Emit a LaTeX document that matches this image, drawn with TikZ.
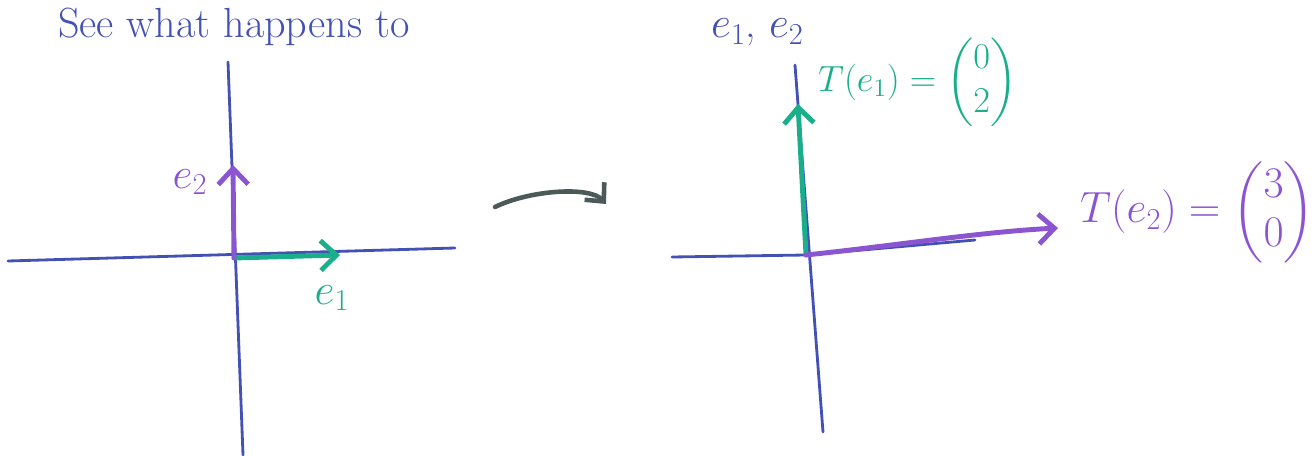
\documentclass[tikz,border=0pt]{standalone}
\usepackage{amsmath,amssymb}
\usepackage{tikz}
\usetikzlibrary{arrows.meta}
\definecolor{axisblue}{HTML}{4350B4}
\definecolor{vecgreen}{HTML}{1BAE8A}
\definecolor{vecpurple}{HTML}{8B55D2}
\definecolor{mapgray}{HTML}{4B5959}
\tikzset{
  axis/.style={axisblue,line width=1.6pt,line cap=round},
  vec/.style={line width=2.8pt,line cap=round,-{Straight Barb[length=9pt,width=17pt,line width=2.8pt]}},
}
\newcommand{\TitleFont}{\fontsize{24}{28}\selectfont}

\begin{document}
\begin{tikzpicture}[x=0.02cm,y=-0.02cm,font=\fontsize{23}{27}\selectfont]
  \useasboundingbox (0,0) rectangle (1316,456);
  \node[axisblue,anchor=base west,font=\TitleFont] (ttl) at (52,38) {See what happens to};
  \node[axisblue,anchor=base west,font=\TitleFont] (ttlv) at (705,38) {$e_1$, $e_2$};

  \coordinate (oa) at (234,258);
  \coordinate (xa1) at (8,261);
  \coordinate (xa2) at (455,248);
  \coordinate (ya1) at (228,62);
  \coordinate (ya2) at (243,455);
  \draw[axis] (xa1) -- (xa2);
  \draw[axis] (ya1) -- (ya2);
  \coordinate (e1tip) at (340,255);
  \coordinate (e2tip) at (233,165);
  \draw[vec,vecgreen] (oa) -- (e1tip);
  \draw[vec,vecpurple] (oa) -- (e2tip);
  \node[vecpurple] (e2lbl) at (190,182) {$e_2$};
  \node[vecgreen] (e1lbl) at (332,298) {$e_1$};

  \coordinate (ma) at (495,207);
  \coordinate (mb) at (606,204);
  \draw[mapgray,line width=2.6pt,line cap=round,-{Straight Barb[length=8pt,width=15pt,line width=2.6pt]}]
    (ma) .. controls (530,190) and (590,186) .. (mb);

  \coordinate (ob) at (806,255);
  \coordinate (xb1) at (672,257);
  \coordinate (xb2) at (975,240);
  \coordinate (yb1) at (795,65);
  \coordinate (yb2) at (823,432);
  \draw[axis] (xb1) -- (ob) -- (xb2);
  \draw[axis] (yb1) -- (yb2);
  \coordinate (t1tip) at (798,104);
  \coordinate (t2tip) at (1058,228);
  \draw[vec,vecgreen] (ob) -- (t1tip);
  \draw[vec,vecpurple] (ob) .. controls (900,245) and (980,232) .. (t2tip);
  \node[vecgreen,anchor=west,font=\fontsize{21}{25}\selectfont] (t1lbl) at (812,82) {$T(e_1)=\begin{pmatrix}0\\2\end{pmatrix}$};
  \node[vecpurple,anchor=west,font=\fontsize{24}{28}\selectfont] (t2lbl) at (1074,212) {$T(e_2)=\begin{pmatrix}3\\0\end{pmatrix}$};
\end{tikzpicture}
\end{document}
